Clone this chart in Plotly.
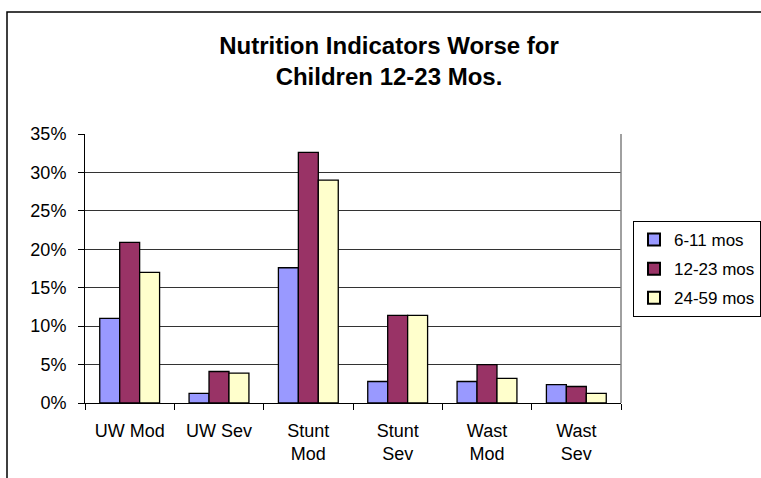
import plotly.graph_objects as go

categories = ["UW Mod", "UW Sev", "Stunt<br>Mod", "Stunt<br>Sev", "Wast<br>Mod", "Wast<br>Sev"]
series_names = ["6-11 mos", "12-23 mos", "24-59 mos"]
vals_6_11 = [0.110, 0.0125, 0.176, 0.028, 0.028, 0.024]
vals_12_23 = [0.209, 0.041, 0.326, 0.114, 0.050, 0.0215]
vals_24_59 = [0.170, 0.039, 0.290, 0.114, 0.032, 0.0125]
colors = ["#9999FF", "#993366", "#FFFFCC"]

W, H = 761, 478
L, R, T, B = 85, 140, 134, 75
pw = W - L - R
ph = H - T - B

def px_x(x):
    return (x - L) / pw

def px_y(y):
    return (H - B - y) / ph

fig = go.Figure()
for i, (name, vals) in enumerate(zip(series_names, [vals_6_11, vals_12_23, vals_24_59])):
    fig.add_trace(go.Bar(
        x=categories, y=vals, name=name, legendgroup=name,
        marker=dict(color=colors[i], line=dict(color="black", width=1.3)),
    ))

font = "Liberation Sans, Arial, sans-serif"
fig.update_layout(
    width=W, height=H,
    margin=dict(l=L, r=R, t=T, b=B, autoexpand=False),
    paper_bgcolor="white", plot_bgcolor="white",
    barmode="group", bargap=0.33, bargroupgap=0,
    font=dict(family=font, size=18, color="black"),
    title=dict(text="<b>Nutrition Indicators Worse for<br>Children 12-23 Mos.</b>",
               x=389 / W, xanchor="center", xref="container",
               y=1 - 54 / H, yanchor="top", yref="container",
               font=dict(family=font, size=24, color="black")),
    showlegend=True,
    legend=dict(x=px_x(633), y=px_y(221), xanchor="left", yanchor="top",
                bordercolor="black", borderwidth=1, bgcolor="white",
                font=dict(family=font, size=17), traceorder="grouped",
                tracegroupgap=4, itemsizing="constant", itemwidth=30),
    xaxis=dict(showline=True, linecolor="black", linewidth=1,
               ticks="outside", ticklen=6, tickcolor="black", tickson="boundaries",
               tickfont=dict(family=font, size=18), ticklabelstandoff=11,
               showgrid=False, fixedrange=True),
    yaxis=dict(range=[0, 0.35], dtick=0.05, tickformat=".0%",
               showline=True, linecolor="black", linewidth=1,
               ticks="outside", ticklen=6, tickcolor="black",
               showgrid=True, gridcolor="#333333", gridwidth=1,
               zeroline=False, tickfont=dict(family=font, size=18),
               ticklabelstandoff=8, fixedrange=True),
    shapes=[
        dict(type="rect", xref="paper", yref="paper",
             x0=px_x(7), x1=px_x(W + 20), y0=px_y(H + 20), y1=px_y(12),
             line=dict(color="black", width=1.5), fillcolor="rgba(0,0,0,0)", layer="below"),
        dict(type="line", xref="paper", yref="paper", x0=1, x1=1, y0=0, y1=1,
             line=dict(color="#808080", width=1.5)),
    ],
)

fig.write_html("out.html", config={"displayModeBar": False},
               post_script="document.body.style.margin='0';document.body.style.overflow='hidden';")
